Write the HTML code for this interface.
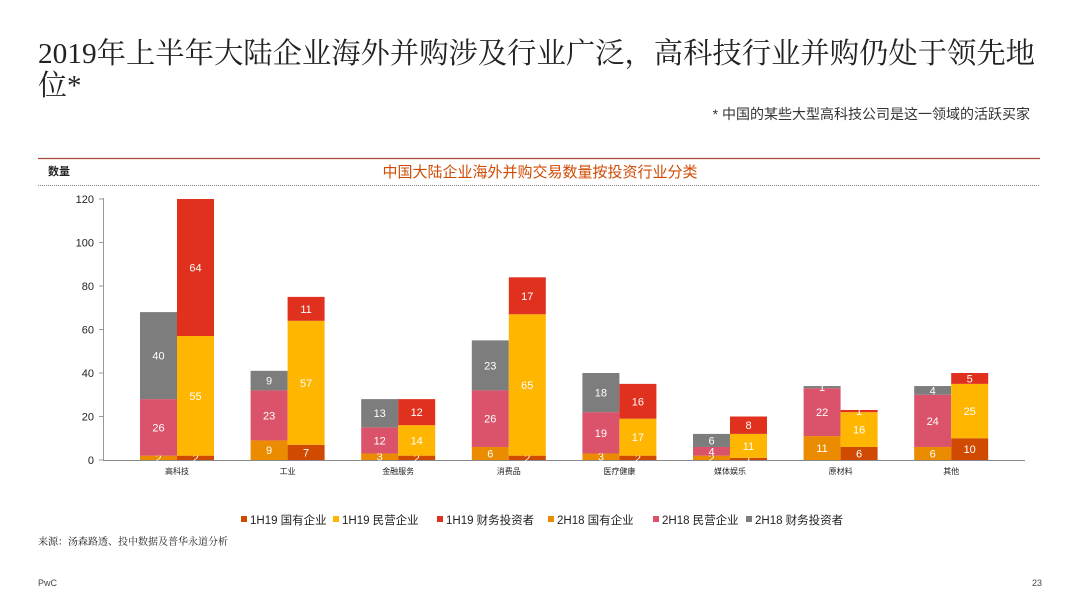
<!DOCTYPE html>
<html><head><meta charset="utf-8"><style>
html,body{margin:0;padding:0;background:#fff;width:1080px;height:608px;overflow:hidden}
svg{display:block;font-family:"Liberation Sans","Noto Sans CJK SC",sans-serif}
</style></head><body>
<svg id="s" width="1080" height="608" xmlns="http://www.w3.org/2000/svg">
<text x="38" y="63" font-size="29" fill="#222" textLength="997" lengthAdjust="spacingAndGlyphs" font-family="Liberation Serif,Noto Serif CJK SC,serif">2019年上半年大陆企业海外并购涉及行业广泛，高科技行业并购仍处于领先地</text>
<text x="38" y="95" font-size="29" fill="#222" font-family="Liberation Serif,Noto Serif CJK SC,serif">位*</text>
<text x="1030" y="119" font-size="14" fill="#333" text-anchor="end">* 中国的某些大型高科技公司是这一领域的活跃买家</text>
<line x1="38" y1="158.5" x2="1040" y2="158.5" stroke="#a8473c" stroke-width="1.3"/>
<text x="48" y="175" font-size="11" font-weight="bold" fill="#222">数量</text>
<text x="540" y="177" font-size="15" fill="#d04a02" text-anchor="middle">中国大陆企业海外并购交易数量按投资行业分类</text>
<line x1="38" y1="185.5" x2="1040" y2="185.5" stroke="#888" stroke-width="1" stroke-dasharray="1,1"/>
<text x="38" y="545" font-size="10" fill="#222" font-family="Liberation Serif,Noto Serif CJK SC,serif">来源：汤森路透、投中数据及普华永道分析</text>
<text x="38" y="586" font-size="9" fill="#444">PwC</text>
<text x="1042" y="586" font-size="9" fill="#444" text-anchor="end">23</text>
</svg>
<script>
var s=document.getElementById('s'),NS='http://www.w3.org/2000/svg';
function el(t,a,txt){var e=document.createElementNS(NS,t);for(var k in a)e.setAttribute(k,a[k]);if(txt!=null)e.textContent=txt;s.appendChild(e);return e;}
var y0=460,k=261/120;
el('line',{x1:103.5,y1:198,x2:103.5,y2:460,stroke:'#999'});
el('line',{x1:103,y1:460.5,x2:1025,y2:460.5,stroke:'#888'});
for(var v=0;v<=120;v+=20){var y=y0-v*k;el('line',{x1:99,y1:y,x2:103,y2:y,stroke:'#999'});el('text',{x:94,y:y+4,'font-size':11,fill:'#222','text-anchor':'end'},v);}
var C1=['#d04a02','#ffb600','#e0301e'],C2=['#eb8c00','#db536a','#7d7d7d'];
var D=[[[2,26,40],[2,55,64],'高科技'],[[9,23,9],[7,57,11],'工业'],[[3,12,13],[2,14,12],'金融服务'],[[6,26,23],[2,65,17],'消费品'],[[3,19,18],[2,17,16],'医疗健康'],[[2,4,6],[1,11,8],'媒体娱乐'],[[11,22,1],[6,16,1],'原材料'],[[6,24,4],[10,25,5],'其他']];
function bar(x,vals,cols){var b=0;for(var i=0;i<3;i++){var v=vals[i];var top=y0-Math.min(b+v,120)*k,h=Math.min(b+v,120)*k-b*k;el('rect',{x:x,y:top,width:37,height:h,fill:cols[i]});el('text',{x:x+18.5,y:top+h/2+4,'font-size':11,fill:'#fff','text-anchor':'middle'},v);b+=v;}}
D.forEach(function(d,i){var x=140+i*110.6;bar(x,d[0],C2);bar(x+37,d[1],C1);el('text',{x:x+37,y:474,'font-size':8,fill:'#222','text-anchor':'middle'},d[2]);});
var L=[['1H19 国有企业',C1[0],241],['1H19 民营企业',C1[1],333],['1H19 财务投资者',C1[2],437],['2H18 国有企业',C2[0],548],['2H18 民营企业',C2[1],653],['2H18 财务投资者',C2[2],746]];
L.forEach(function(l){el('rect',{x:l[2],y:516,width:6,height:6,fill:l[1]});el('text',{x:l[2]+9,y:524,'font-size':11.5,fill:'#222'},l[0]);});
</script>
</body></html>
